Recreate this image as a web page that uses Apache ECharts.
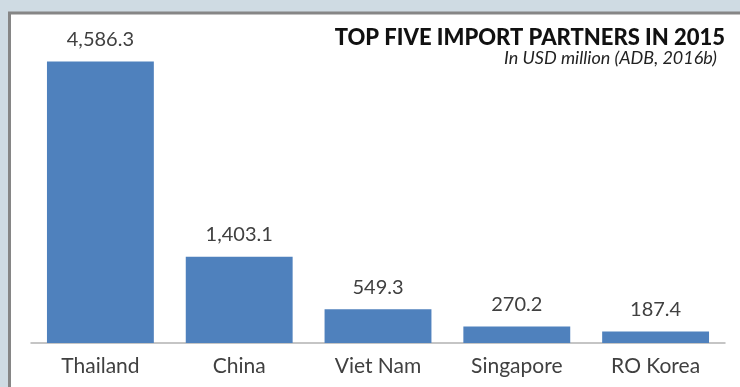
<!DOCTYPE html>
<html>
<head>
<meta charset="utf-8">
<script src="https://cdn.jsdelivr.net/npm/echarts@6/dist/echarts.min.js"></script>
<style>
  html, body { margin: 0; padding: 0; background: #cfdbe3; }
  #chart { width: 740px; height: 387px; }
</style>
</head>
<body>
<div id="chart"></div>
<script>
// Top five import partners, 2015 (USD million)
const partners = ['Thailand', 'China', 'Viet Nam', 'Singapore', 'RO Korea'];
const importValues = [4586.3, 1403.1, 549.3, 270.2, 187.4];
const titleText = 'TOP FIVE IMPORT PARTNERS IN 2015';
const subtitleText = 'In USD million (ADB, 2016b)';

const chart = echarts.init(document.getElementById('chart'));

const fmt = v => v.toLocaleString('en-US', { minimumFractionDigits: 1, maximumFractionDigits: 1 });

chart.setOption({
  backgroundColor: '#cfdbe3',
  animation: false,
  graphic: [
    {
      type: 'rect',
      z: -10,
      shape: { x: 9.5, y: 13, width: 760, height: 400 },
      style: { fill: '#ffffff', stroke: '#868686', lineWidth: 3 }
    }
  ],
  title: [
    {
      text: titleText,
      right: 15,
      top: 27,
      padding: 0,
      textStyle: {
        fontFamily: 'Lato',
        fontWeight: 900,
        fontSize: 22,
        color: '#111111'
      }
    },
    {
      text: subtitleText,
      right: 23,
      top: 49,
      padding: 0,
      textStyle: {
        fontFamily: 'Lato',
        fontStyle: 'italic',
        fontWeight: 'normal',
        fontSize: 18,
        color: '#222222'
      }
    }
  ],
  grid: { left: 31, right: 15, top: 36, bottom: 44 },
  xAxis: {
    type: 'category',
    data: partners,
    axisLine: { lineStyle: { color: '#b3b3b3', width: 1.5 } },
    axisTick: { show: false },
    axisLabel: {
      fontFamily: 'Lato',
      fontSize: 21,
      color: '#404040',
      margin: 13
    }
  },
  yAxis: {
    type: 'value',
    min: 0,
    max: 5000,
    show: false,
    splitLine: { show: false }
  },
  series: [{
    type: 'bar',
    data: importValues,
    barCategoryGap: '23%',
    itemStyle: { color: '#4f81bd' },
    label: {
      show: true,
      position: 'top',
      distance: 12,
      fontFamily: 'Lato',
      fontSize: 20,
      color: '#404040',
      formatter: p => fmt(p.value)
    }
  }]
});
</script>
</body>
</html>
